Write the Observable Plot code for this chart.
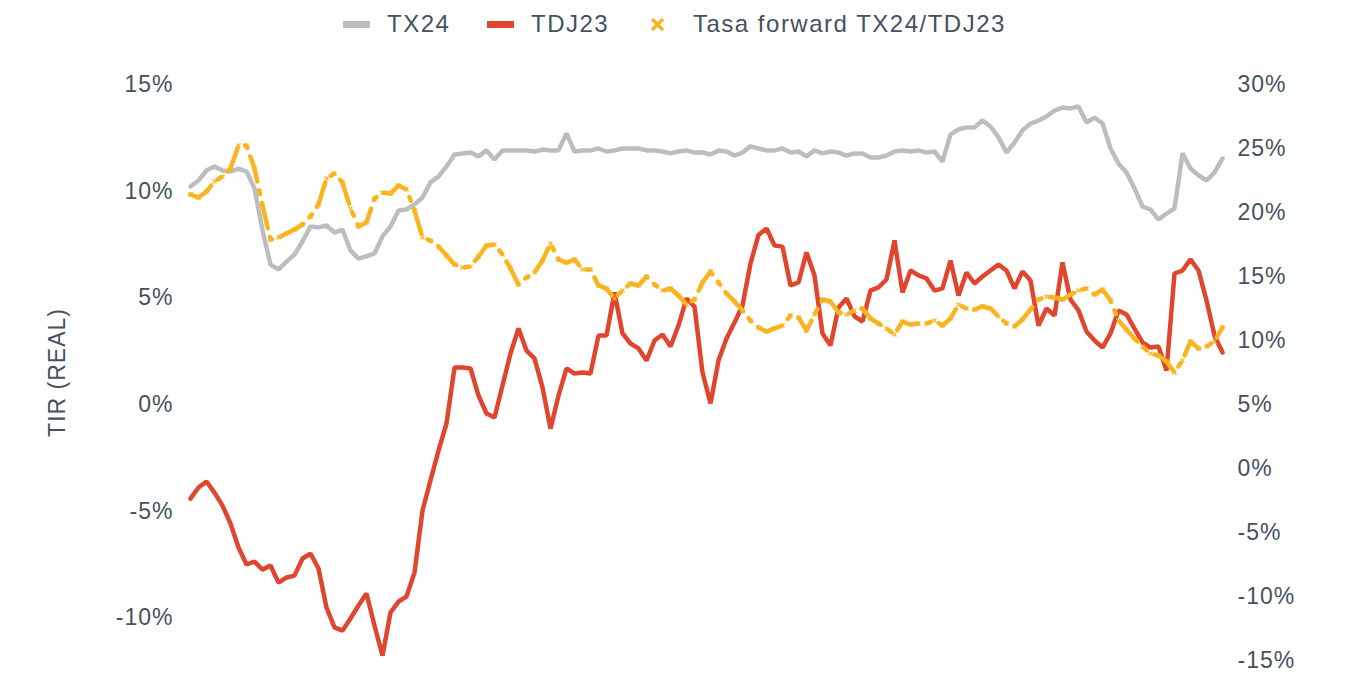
<!DOCTYPE html>
<html>
<head>
<meta charset="utf-8">
<script src="https://cdn.jsdelivr.net/npm/d3@7"></script>
<script src="https://cdn.jsdelivr.net/npm/@observablehq/plot@0.6"></script>
<style>
  html, body { margin: 0; padding: 0; background: #ffffff; }
  body { width: 1346px; height: 673px; overflow: hidden; font-family: "Liberation Sans", Arial, sans-serif; }
  #legend { position: relative; height: 50px; color: #44525c; font-size: 24px; letter-spacing: 1.5px; }
  .it { position: absolute; top: 10px; line-height: 28px; white-space: nowrap; }
  .sw { position: absolute; top: 21px; width: 27px; height: 7px; }
  .mk { position: absolute; top: 17px; width: 15px; height: 15px; }
  svg text { letter-spacing: 1px; }
</style>
</head>
<body>
<div id="legend"></div>
<div id="chart"></div>
<script>
// Series names and colours
const seriesNames = ["TX24", "TDJ23", "Tasa forward TX24/TDJ23"];
const colors = ["#bdbdbd", "#e0452e", "#f9b41f"];

// TX24 real yield (%), left axis
const tx24 = [10.22,10.50,10.97,11.16,10.97,10.92,11.06,10.92,10.13,8.16,
  6.56,6.33,6.70,7.03,7.64,8.35,8.30,8.39,8.06,8.20,
  7.22,6.84,6.94,7.08,7.88,8.35,9.09,9.14,9.38,9.70,
  10.41,10.69,11.16,11.72,11.77,11.81,11.63,11.91,11.49,11.91,
  11.91,11.91,11.91,11.86,11.95,11.91,11.91,12.71,11.86,11.91,
  11.91,12.00,11.86,11.91,12.00,12.00,12.00,11.91,11.91,11.86,
  11.77,11.86,11.91,11.81,11.81,11.72,11.91,11.86,11.67,11.81,
  12.10,12.00,11.91,11.91,12.00,11.81,11.86,11.63,11.91,11.77,
  11.86,11.81,11.67,11.77,11.77,11.58,11.58,11.67,11.86,11.91,
  11.86,11.91,11.81,11.86,11.39,12.66,12.89,12.99,12.99,13.31,
  13.03,12.52,11.81,12.28,12.85,13.17,13.31,13.50,13.78,13.92,
  13.88,13.97,13.22,13.45,13.17,12.00,11.30,10.88,10.13,9.28,
  9.14,8.67,8.95,9.19,11.77,11.06,10.74,10.50,10.88,11.53];

// TDJ23 real yield (%), left axis
const tdj23 = [-4.41,-3.89,-3.61,-4.13,-4.74,-5.58,-6.70,-7.50,-7.36,-7.74,
  -7.55,-8.35,-8.11,-8.02,-7.22,-6.99,-7.69,-9.52,-10.45,-10.60,
  -10.03,-9.42,-8.86,-10.36,-11.77,-9.75,-9.24,-9.00,-7.88,-4.97,
  -3.56,-2.16,-0.89,1.73,1.73,1.69,0.42,-0.42,-0.61,0.89,
  2.39,3.56,2.53,2.16,0.80,-1.13,0.42,1.69,1.45,1.50,
  1.45,3.23,3.23,5.25,3.33,2.86,2.63,2.06,3.00,3.28,
  2.72,3.70,4.97,4.59,1.50,0.05,2.06,3.09,3.84,4.64,
  6.61,7.95,8.25,7.45,7.40,5.58,5.72,7.13,6.05,3.33,
  2.77,4.55,4.97,4.13,3.89,5.34,5.49,5.86,7.69,5.25,
  6.28,6.05,5.91,5.34,5.44,6.75,5.11,6.19,5.67,6.00,
  6.28,6.56,6.28,5.44,6.24,5.81,3.70,4.50,4.17,6.66,
  4.92,4.41,3.42,3.00,2.67,3.33,4.41,4.22,3.56,2.91,
  2.67,2.72,1.59,6.14,6.28,6.80,6.28,4.88,3.23,2.44];

// Forward rate TX24/TDJ23 (%), right axis
const fwd = [21.41,21.17,21.64,22.42,22.81,23.44,25.23,25.23,23.44,20.55,
  17.89,18.05,18.36,18.67,19.06,19.69,20.63,22.66,23.05,22.34,
  20.31,18.91,19.22,21.09,21.56,21.48,22.11,21.80,20.16,18.05,
  17.81,17.34,16.64,15.94,15.70,15.78,16.56,17.42,17.50,16.72,
  15.63,14.38,14.92,15.31,16.25,17.58,16.33,16.09,16.33,15.55,
  15.55,14.30,14.06,13.28,13.91,14.45,14.30,15.00,14.38,13.91,
  14.06,13.52,12.81,13.20,14.53,15.39,14.53,13.67,13.05,12.34,
  11.56,11.02,10.70,10.94,11.17,11.95,11.80,10.78,12.03,13.20,
  13.05,12.19,12.03,12.34,12.50,11.72,11.33,10.94,10.47,11.48,
  11.25,11.33,11.33,11.56,11.17,11.72,12.81,12.50,12.42,12.66,
  12.50,11.88,11.33,11.09,11.64,12.42,13.20,13.44,13.36,13.20,
  13.59,13.91,14.06,13.59,13.98,13.13,11.56,10.86,10.16,9.53,
  8.98,8.83,8.36,7.50,8.44,9.92,9.38,9.53,9.92,11.02];

// Axis ticks
const leftTicks = [-10, -5, 0, 5, 10, 15];
const rightTicks = [-15, -10, -5, 0, 5, 10, 15, 20, 25, 30];
const leftDomain = [-12, 15];
const rightDomain = [-15, 30];
const yLabel = "TIR (REAL)";

// map right-axis value into left-axis units
const r2l = r => leftDomain[0] + (r - rightDomain[0]) * (leftDomain[1] - leftDomain[0]) / (rightDomain[1] - rightDomain[0]);
const l2r = l => rightDomain[0] + (l - leftDomain[0]) * (rightDomain[1] - rightDomain[0]) / (leftDomain[1] - leftDomain[0]);

const data = tx24.map((v, i) => ({i, tx24: v, tdj23: tdj23[i], fwd: fwd[i]}));

// Legend
const legend = document.getElementById("legend");
legend.innerHTML =
  `<span class="sw" style="left:343px;background:${colors[0]}"></span>` +
  `<span class="it" style="left:387px">${seriesNames[0]}</span>` +
  `<span class="sw" style="left:487px;background:${colors[1]}"></span>` +
  `<span class="it" style="left:531px">${seriesNames[1]}</span>` +
  `<svg class="mk" style="left:650px" viewBox="0 0 15 15"><path d="M2,2L13,13M13,2L2,13" stroke="${colors[2]}" stroke-width="3.2" stroke-linecap="butt"/></svg>` +
  `<span class="it" style="left:693px">${seriesNames[2]}</span>`;

const textColor = "#44525c";

const chart = Plot.plot({
  width: 1346,
  height: 623,
  marginTop: 34,
  marginBottom: 13,
  marginLeft: 190,
  marginRight: 124,
  style: {fontFamily: "Liberation Sans, Arial, sans-serif", fontSize: "23px", color: textColor, background: "#ffffff"},
  x: {domain: [0, tx24.length - 1], axis: null},
  y: {domain: leftDomain},
  marks: [
    Plot.axisY(leftTicks, {anchor: "left", tickSize: 0, tickPadding: 17, tickFormat: d => d + "%",
      label: yLabel, labelAnchor: "center", labelArrow: "none", labelOffset: 142, fill: textColor}),
    Plot.axisY(rightTicks.map(r2l), {anchor: "right", tickSize: 0, tickPadding: 15,
      tickFormat: d => Math.round(l2r(d)) + "%", label: null, fill: textColor}),
    Plot.line(data, {x: "i", y: "tx24", stroke: colors[0], strokeWidth: 4.5, strokeLinejoin: "miter"}),
    Plot.line(data, {x: "i", y: "tdj23", stroke: colors[1], strokeWidth: 4.5, strokeLinejoin: "miter"}),
    Plot.line(data, {x: "i", y: d => r2l(d.fwd), stroke: colors[2], strokeWidth: 4.5, strokeDasharray: "26,9,4,9"}),
    Plot.dot(data, {x: "i", y: d => r2l(d.fwd), symbol: "times", r: 2, stroke: colors[2], strokeWidth: 1.2})
  ]
});
document.getElementById("chart").appendChild(chart);
</script>
</body>
</html>
